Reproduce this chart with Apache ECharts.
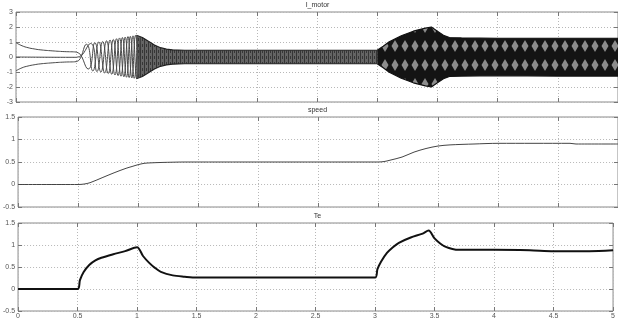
<!DOCTYPE html>
<html>
<head>
<meta charset="utf-8">
<script src="https://cdn.jsdelivr.net/npm/echarts@6/dist/echarts.min.js"></script>
<style>
  html, body { margin: 0; padding: 0; background: #fff; }
  #chart { width: 618px; height: 320px; }
</style>
</head>
<body>
<div id="chart"></div>
<script>
// I_motor: three phase currents up to ~1s (DC decay, then rotation start)
const phaseAT = [0, 0.05, 0.1, 0.15, 0.2, 0.3, 0.4, 0.5, 0.6, 0.655, 0.705, 0.752, 0.795, 0.835, 0.872, 0.907, 0.94, 0.972, 1.003, 1.032]
const phaseAV = [0.95, 0.75, 0.62, 0.54, 0.48, 0.41, 0.36, 0.33, -0.8, 0.95, -1.0, 1.08, -1.15, 1.22, -1.28, 1.33, -1.37, 1.41, -1.45, 1.35]
const phaseBT = [0, 0.05, 0.1, 0.15, 0.2, 0.3, 0.4, 0.5, 0.585, 0.638, 0.688, 0.737, 0.781, 0.822, 0.86, 0.896, 0.93, 0.962, 0.993, 1.022]
const phaseBV = [-0.92, -0.72, -0.6, -0.52, -0.46, -0.39, -0.34, -0.31, 0.85, -0.93, 1.0, -1.06, 1.13, -1.2, 1.27, -1.32, 1.36, -1.4, 1.45, -1.4]
const phaseCT = [0, 0.5, 0.62, 0.672, 0.72, 0.766, 0.808, 0.848, 0.884, 0.918, 0.95, 0.982, 1.012]
const phaseCV = [0, -0.02, 0.9, -0.97, 1.03, -1.1, 1.17, -1.24, 1.3, -1.35, 1.38, -1.42, 1.44]

// I_motor: envelope of the dense oscillation after 1s
const band1T = [1.0, 1.05, 1.1, 1.15, 1.2, 1.25, 1.3, 1.4, 2.0, 2.5, 3.0]
const band1Hi = [1.45, 1.3, 1.05, 0.8, 0.62, 0.53, 0.48, 0.45, 0.45, 0.45, 0.45]
const band1Lo = [-1.45, -1.3, -1.05, -0.8, -0.62, -0.53, -0.48, -0.45, -0.45, -0.45, -0.45]
const band2T = [3.0, 3.05, 3.1, 3.2, 3.3, 3.4, 3.45, 3.5, 3.55, 3.6, 3.7, 4.0, 4.5, 5.0]
const band2Hi = [0.45, 0.72, 1.02, 1.42, 1.72, 1.93, 2.0, 1.72, 1.45, 1.3, 1.27, 1.25, 1.25, 1.25]
const band2Lo = [-0.45, -0.72, -1.02, -1.42, -1.72, -1.93, -2.0, -1.72, -1.45, -1.3, -1.27, -1.25, -1.27, -1.27]

// speed
const speedT = [0, 0.5, 0.55, 0.6, 0.7, 0.8, 0.9, 0.95, 1.0, 1.05, 1.1, 1.2, 1.4, 3.0, 3.05, 3.1, 3.2, 3.3, 3.4, 3.5, 3.6, 3.8, 4.0, 4.6, 4.65, 5.0]
const speedV = [0, 0, 0.01, 0.04, 0.15, 0.26, 0.36, 0.4, 0.44, 0.47, 0.48, 0.49, 0.5, 0.5, 0.51, 0.54, 0.61, 0.72, 0.8, 0.855, 0.88, 0.9, 0.915, 0.915, 0.9, 0.9]

// Te
const teT = [0, 0.5, 0.52, 0.55, 0.6, 0.65, 0.7, 0.8, 0.9, 1.0, 1.05, 1.1, 1.15, 1.2, 1.3, 1.4, 1.5, 3.0, 3.02, 3.05, 3.1, 3.15, 3.2, 3.3, 3.4, 3.45, 3.5, 3.55, 3.6, 3.65, 3.7, 4.0, 4.3, 4.5, 4.8, 5.0]
const teV = [0, 0, 0.2, 0.38, 0.55, 0.65, 0.71, 0.79, 0.86, 0.95, 0.75, 0.6, 0.48, 0.39, 0.31, 0.28, 0.26, 0.26, 0.45, 0.62, 0.82, 0.95, 1.05, 1.17, 1.26, 1.33, 1.15, 1.03, 0.95, 0.91, 0.89, 0.89, 0.88, 0.86, 0.86, 0.88]

const xTicks = { min: 0, max: 5, interval: 0.5 }
const titles = ['I_motor', 'speed', 'Te']

const zip = (ts, vs) => ts.map((t, i) => [t, vs[i]])

const LEFT = 16, WIDTH = 603, HEIGHT = 90
const tops = [12, 117, 223]
const labelStyle = { color: '#555', fontSize: 7, fontFamily: 'Liberation Sans' }
const dotted = { show: true, lineStyle: { color: '#b8b8b8', type: [1, 2], width: 1 } }
const tick = { inside: true, length: 4, lineStyle: { color: '#777' } }
const noLine = { show: false, onZero: false }

// texture tiles for the dense current bands (black with grey beats / fine stripes)
function makeTile(w, h, bg, draw) {
  const c = document.createElement('canvas')
  c.width = w
  c.height = h
  const ctx = c.getContext('2d')
  ctx.fillStyle = bg
  ctx.fillRect(0, 0, w, h)
  draw(ctx)
  return c
}
const diamondTile = makeTile(10, 19, '#141414', (ctx) => {
  ctx.fillStyle = '#8c8c8c'
  ctx.beginPath()
  ctx.moveTo(5, 2); ctx.lineTo(8.5, 8); ctx.lineTo(5, 14); ctx.lineTo(1.5, 8)
  ctx.closePath()
  ctx.fill()
})
const stripeTile = makeTile(4, 6, '#646464', (ctx) => {
  ctx.fillStyle = '#363636'
  ctx.fillRect(0, 0, 1, 6)
  ctx.fillRect(2, 2, 1, 3)
})

const chart = echarts.init(document.getElementById('chart'), null, { renderer: 'canvas' })

const grid = tops.map((top) => ({
  left: LEFT, width: WIDTH, top, height: HEIGHT,
  show: true, borderColor: '#8a8a8a', borderWidth: 1, backgroundColor: 'transparent'
}))

const xAxis = []
tops.forEach((_, i) => {
  xAxis.push({
    type: 'value', gridIndex: i, ...xTicks, position: 'bottom',
    axisLine: noLine, axisTick: tick,
    axisLabel: i === 2 ? { ...labelStyle, margin: 2 } : { show: false },
    splitLine: dotted
  })
})
tops.forEach((_, i) => {
  xAxis.push({
    type: 'value', gridIndex: i, ...xTicks, position: 'top',
    axisLine: noLine, axisTick: tick,
    axisLabel: { show: false }, splitLine: { show: false }
  })
})

const yRanges = [
  { min: -3, max: 3, interval: 1 },
  { min: -0.5, max: 1.5, interval: 0.5 },
  { min: -0.5, max: 1.5, interval: 0.5 }
]
const yAxis = []
yRanges.forEach((r, i) => {
  yAxis.push({
    type: 'value', gridIndex: i, ...r, position: 'left',
    axisLine: noLine, axisTick: tick,
    axisLabel: { ...labelStyle, margin: 3 },
    splitLine: dotted
  })
})
yRanges.forEach((r, i) => {
  yAxis.push({
    type: 'value', gridIndex: i, ...r, position: 'right',
    axisLine: noLine, axisTick: tick,
    axisLabel: { show: false }, splitLine: { show: false }
  })
})

const title = titles.map((text, i) => ({
  text, left: LEFT + WIDTH / 2, top: tops[i] - 10, textAlign: 'center',
  textStyle: { color: '#333', fontSize: 7, fontWeight: 'normal', fontFamily: 'Liberation Sans' },
  padding: 0
}))

const line = (data, xi, yi, color, width, extra) => ({
  type: 'line', xAxisIndex: xi, yAxisIndex: yi, data, showSymbol: false,
  symbol: 'none', lineStyle: { color, width }, animation: false, ...(extra || {})
})

const stripeFill = { areaStyle: { color: { image: stripeTile, repeat: 'repeat' }, opacity: 1 } }
const diamondFill = { areaStyle: { color: { image: diamondTile, repeat: 'repeat' }, opacity: 1 } }

const series = [
  line(zip(band1T, band1Hi), 0, 0, '#222', 1.2, stripeFill),
  line(zip(band1T, band1Lo), 0, 0, '#222', 1.2, stripeFill),
  line(zip(band2T, band2Hi), 0, 0, '#111', 1.2, diamondFill),
  line(zip(band2T, band2Lo), 0, 0, '#111', 1.2, diamondFill),
  line(zip(phaseAT, phaseAV), 0, 0, '#4a4a4a', 1, { smooth: 0.5 }),
  line(zip(phaseBT, phaseBV), 0, 0, '#4a4a4a', 1, { smooth: 0.5 }),
  line(zip(phaseCT, phaseCV), 0, 0, '#4a4a4a', 1, { smooth: 0.5 }),
  line(zip(speedT, speedV), 1, 1, '#444', 1, { smooth: 0.3 }),
  line(zip(teT, teV), 2, 2, '#111', 2, { smooth: 0.3 })
]

chart.setOption({
  backgroundColor: '#fff',
  animation: false,
  title,
  grid,
  xAxis,
  yAxis,
  series
})
</script>
</body>
</html>
